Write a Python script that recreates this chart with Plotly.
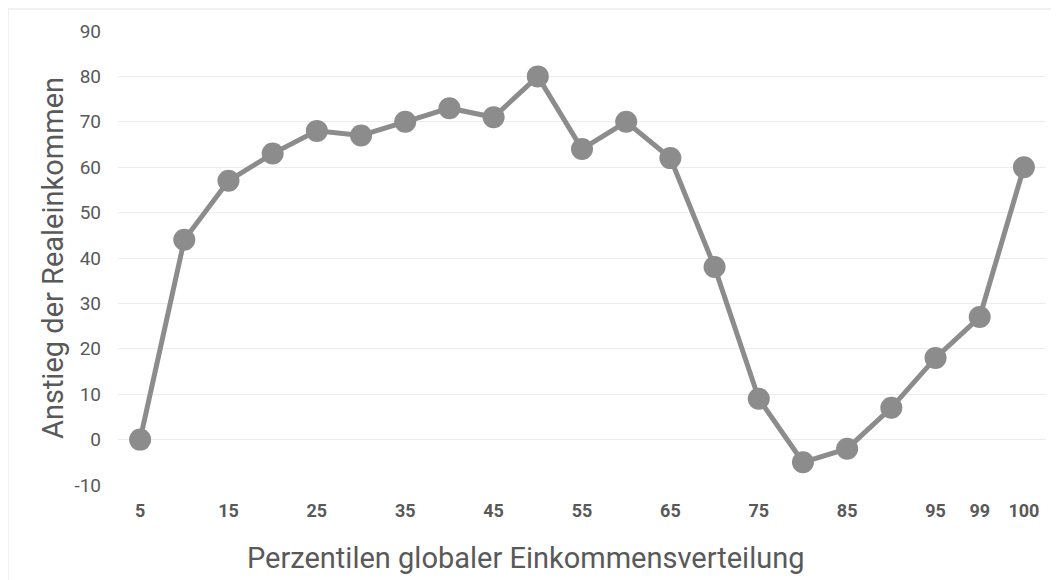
import plotly.graph_objects as go

percentiles = ["5", "10", "15", "20", "25", "30", "35", "40", "45", "50",
               "55", "60", "65", "70", "75", "80", "85", "90", "95", "99", "100"]
growth = [0, 44, 57, 63, 68, 67, 70, 73, 71, 80,
          64, 70, 62, 38, 9, -5, -2, 7, 18, 27, 60]
tick_labels = ["5", "15", "25", "35", "45", "55", "65", "75", "85", "95", "99", "100"]
y_ticks = [-10, 0, 10, 20, 30, 40, 50, 60, 70, 80, 90]

grey = "#8c8c8c"
text_grey = "#595959"

fig = go.Figure()
fig.add_trace(go.Scatter(
    x=percentiles, y=growth, mode="lines+markers",
    line=dict(color=grey, width=5),
    marker=dict(color=grey, size=22),
    showlegend=False, hoverinfo="x+y",
))

fig.update_layout(
    width=1051, height=572,
    margin=dict(l=110, r=13, t=23, b=95),
    paper_bgcolor="white", plot_bgcolor="white",
    font=dict(family="Roboto", color=text_grey),
    xaxis=dict(
        type="category", range=[-0.5, 20.5],
        tickvals=tick_labels, ticktext=[f"<b>{t}</b>" for t in tick_labels],
        tickfont=dict(size=18, color=text_grey),
        showgrid=False, zeroline=False, showline=False, ticks="",
        ticklabelstandoff=13,
    ),
    yaxis=dict(
        range=[-10, 90],
        tickvals=y_ticks, ticktext=[str(v) for v in y_ticks],
        tickfont=dict(size=19, color=text_grey),
        showgrid=True, gridcolor="#ececec", gridwidth=1,
        zeroline=False, showline=False, ticks="",
        ticklabelstandoff=16,
        title=dict(text="Anstieg der Realeinkommen",
                   font=dict(size=29, color=text_grey), standoff=2),
    ),
)

fig.add_annotation(
    text="Perzentilen globaler Einkommensverteilung",
    xref="paper", yref="paper",
    x=(525 - 118) / 928, y=(485 - 558) / 454,
    xanchor="center", yanchor="middle", showarrow=False,
    font=dict(size=29, color=text_grey),
)

fig.add_shape(type="rect", xref="paper", yref="paper",
              x0=-110 / 928, x1=1.2, y0=-0.4, y1=1 + 22 / 454,
              line=dict(color="#e3e3e3", width=1), layer="below")

fig.write_html("out.html")
